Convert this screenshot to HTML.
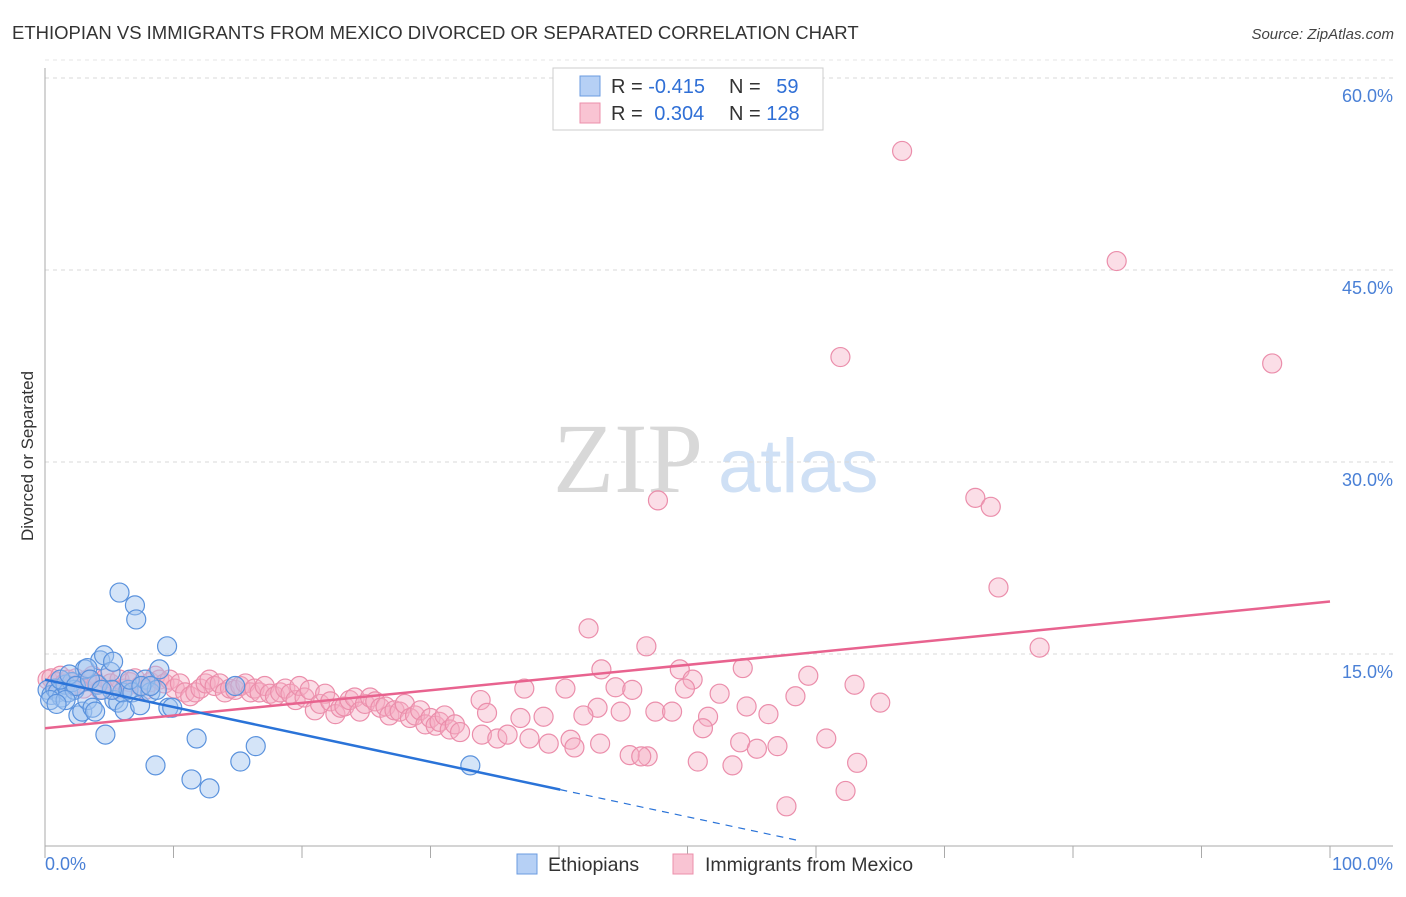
<!DOCTYPE html>
<html><head><meta charset="utf-8"><style>
body{margin:0;background:#fff;font-family:"Liberation Sans",sans-serif}
svg text{font-family:"Liberation Sans",sans-serif}
</style></head><body>
<svg id="chart" width="1406" height="892" viewBox="0 0 1406 892" xmlns="http://www.w3.org/2000/svg">
<text x="12" y="39" font-size="18.5" fill="#333">ETHIOPIAN VS IMMIGRANTS FROM MEXICO DIVORCED OR SEPARATED CORRELATION CHART</text>
<text x="1394" y="39" font-size="15" fill="#444" font-style="italic" text-anchor="end">Source: ZipAtlas.com</text>
<g>
<text x="553" y="492" font-size="100" fill="#d8d8d8" style="font-family:'Liberation Serif',serif">ZIP</text>
<text x="718" y="492" font-size="76" fill="#cfe0f5">atlas</text>
</g>
<g id="grid"></g>
<g id="axes"></g>
<g id="pink"></g>
<g id="blue"></g>
<g id="trends"></g>
<text transform="translate(33,456) rotate(-90)" font-size="17" fill="#333" text-anchor="middle">Divorced or Separated</text>
<g>
<rect x="553" y="68" width="270" height="62" fill="#fff" stroke="#ccc"/>
<rect x="580" y="76" width="20" height="20" fill="#b6d0f5" stroke="#6b9be0"/>
<rect x="580" y="103" width="20" height="20" fill="#f9c4d3" stroke="#ec8fab"/>
<text x="611" y="93" font-size="20" fill="#333">R = <tspan fill="#2f6fd6">-0.415</tspan></text>
<text x="729" y="93" font-size="20" fill="#333">N = <tspan dx="10" fill="#2f6fd6">59</tspan></text>
<text x="611" y="120" font-size="20" fill="#333">R = <tspan dx="6" fill="#2f6fd6">0.304</tspan></text>
<text x="729" y="120" font-size="20" fill="#333">N = <tspan fill="#2f6fd6">128</tspan></text>
</g>
<g>
<rect x="517" y="854" width="20" height="20" fill="#b6d0f5" stroke="#6b9be0"/>
<text x="548" y="871" font-size="19.5" fill="#333">Ethiopians</text>
<rect x="673" y="854" width="20" height="20" fill="#f9c4d3" stroke="#ec8fab"/>
<text x="705" y="871" font-size="19.5" fill="#333">Immigrants from Mexico</text>
</g>
</svg>
<script>
const yTicks=[15,30,45,60];
const yTickLabels=["15.0%","30.0%","45.0%","60.0%"];
const xTickCount=10;
const blueX=[0.2,0.5,0.8,1.0,1.3,1.6,1.8,2.1,2.3,2.6,2.9,3.1,3.3,3.7,3.9,4.1,4.3,4.6,4.7,5.1,5.3,5.4,5.7,6.0,6.2,6.5,6.8,7.0,7.1,7.4,5.8,7.8,8.2,8.6,8.7,8.9,9.5,9.6,9.9,11.4,11.8,12.8,14.8,15.2,16.4,33.1,1.2,1.9,3.3,5.2,2.4,0.4,1.6,3.5,6.6,0.9,4.4,7.5,8.2];
const blueY=[12.2,11.8,12.3,12.0,11.6,12.6,12.0,12.8,12.2,10.2,10.5,13.8,11.4,10.8,10.5,12.6,14.5,14.9,8.7,13.6,14.4,11.4,11.2,12.0,10.6,12.2,12.0,18.8,17.7,11.0,19.8,13.0,12.0,6.3,12.2,13.8,15.6,10.8,10.8,5.2,8.4,4.5,12.5,6.6,7.8,6.3,13.0,13.4,13.9,12.2,12.5,11.4,11.4,13.0,13.0,11.1,12.2,12.5,12.5];
const pinkX=[0.2,0.5,0.9,1.2,1.5,1.8,2.1,2.4,2.7,3.0,3.3,3.7,4.0,4.3,4.7,5.1,5.4,5.8,6.2,6.6,7.0,7.4,7.8,8.2,8.6,8.9,9.3,9.7,10.1,10.5,10.9,11.3,11.7,12.1,12.5,12.8,13.2,13.6,14.0,14.4,14.8,15.2,15.6,16.0,16.3,16.7,17.1,17.5,17.9,18.3,18.7,19.1,19.5,19.8,20.2,20.6,21.0,21.4,21.8,22.2,22.6,23.0,23.3,23.7,24.1,24.5,24.9,25.3,25.7,26.1,26.5,26.8,27.2,27.6,28.0,28.4,28.8,29.2,29.6,30.0,30.4,30.7,31.1,31.5,31.9,32.3,
66.7,83.4,61.9,95.5,47.7,72.4,73.6,74.2,42.3,46.8,77.4,43.3,49.4,54.3,59.4,63.0,65.0,40.5,44.4,45.7,50.4,49.8,52.5,58.4,37.3,33.9,43.0,44.8,47.5,48.8,54.6,56.3,51.6,51.2,41.9,38.8,37.0,34.4,43.2,46.9,45.5,46.4,50.8,53.5,54.1,55.4,57.0,60.8,63.2,62.3,57.7,34.0,35.2,36.0,37.7,39.2,40.9,41.2];
const pinkY=[13.0,13.1,12.8,13.3,12.7,13.0,12.5,13.1,12.7,12.3,13.0,13.3,12.7,12.2,13.1,12.7,12.2,13.0,12.3,12.8,13.1,12.5,12.2,12.8,13.3,13.0,12.7,13.0,12.3,12.7,12.0,11.7,12.0,12.3,12.7,13.0,12.5,12.7,12.0,12.3,12.2,12.5,12.7,12.0,12.3,12.0,12.5,11.9,11.7,12.0,12.3,11.9,11.4,12.5,11.6,12.2,10.6,11.1,11.9,11.3,10.3,10.8,10.9,11.4,11.6,10.5,11.1,11.6,11.3,10.8,10.9,10.2,10.6,10.5,11.1,10.0,10.2,10.6,9.5,10.0,9.4,9.7,10.2,9.1,9.5,8.9,
54.3,45.7,38.2,37.7,27.0,27.2,26.5,20.2,17.0,15.6,15.5,13.8,13.8,13.9,13.3,12.6,11.2,12.3,12.4,12.2,13.0,12.3,11.9,11.7,12.3,11.4,10.8,10.5,10.5,10.5,10.9,10.3,10.1,9.2,10.2,10.1,10.0,10.4,8.0,7.0,7.1,7.0,6.6,6.3,8.1,7.6,7.8,8.4,6.5,4.3,3.1,8.7,8.4,8.7,8.4,8.0,8.3,7.7];
const pinkTrend=[9.2,19.1];
const blueIntercept=13.0, blueSlope=-0.2144, blueSolidEnd=40.1, blueDashEnd=58.8;
const NS="http://www.w3.org/2000/svg";
const X0=45,X1=1330,Y0=846,YSCALE=12.8;
const sx=v=>X0+v*(X1-X0)/100, sy=v=>Y0-v*YSCALE;
function mk(tag,attrs,parent){const e=document.createElementNS(NS,tag);for(const k in attrs)e.setAttribute(k,attrs[k]);parent.appendChild(e);return e;}
const grid=document.getElementById('grid'),axes=document.getElementById('axes');
yTicks.forEach((t,i)=>{
 const l=mk('line',{x1:X0,x2:1393,y1:sy(t),y2:sy(t),stroke:'#d8d8d8','stroke-dasharray':'4,4'},grid);
 
 
 const tx=mk('text',{x:1393,y:sy(t)+24,'font-size':18,fill:'#4a80d6','text-anchor':'end'},axes);
 tx.textContent=yTickLabels[i];
 
 
});
const tg=mk('line',{x1:X0,x2:1393,y1:sy(60)-18,y2:sy(60)-18,stroke:'#e4e4e4','stroke-dasharray':'4,4'},grid);


const ya=mk('line',{x1:X0,x2:X0,y1:68,y2:Y0,stroke:'#aaa'},axes);


const xa=mk('line',{x1:X0,x2:1393,y1:Y0,y2:Y0,stroke:'#aaa'},axes);


for(let i=0;i<=xTickCount;i++){const v=i*100/xTickCount;
 const t=mk('line',{x1:sx(v),x2:sx(v),y1:Y0,y2:Y0+12,stroke:'#aaa'},axes);
 
 }
const xl0=mk('text',{x:X0,y:870,'font-size':18,fill:'#4a80d6'},axes);xl0.textContent='0.0%';


const xl1=mk('text',{x:1393,y:870,'font-size':18,fill:'#4a80d6','text-anchor':'end'},axes);xl1.textContent='100.0%';


const pg=document.getElementById('pink');
pinkX.forEach((x,i)=>{const c=mk('circle',{cx:sx(x),cy:sy(pinkY[i]),r:9.5,fill:'rgba(246,172,196,0.4)',stroke:'#eb8eab','stroke-width':1.2},pg);
 
 });
const bg=document.getElementById('blue');
blueX.forEach((x,i)=>{const c=mk('circle',{cx:sx(x),cy:sy(blueY[i]),r:9.5,fill:'rgba(160,196,240,0.45)',stroke:'#5a92dd','stroke-width':1.2},bg);
 
 });
const tr=document.getElementById('trends');
const pl=mk('line',{x1:sx(0),y1:sy(pinkTrend[0]),x2:sx(100),y2:sy(pinkTrend[1]),stroke:'#e8638f','stroke-width':2.5},tr);


const bl=mk('line',{x1:sx(0),y1:sy(blueIntercept),x2:sx(blueSolidEnd),y2:sy(blueIntercept+blueSlope*blueSolidEnd),stroke:'#2a73d8','stroke-width':2.5},tr);


const bd=mk('line',{x1:sx(blueSolidEnd),y1:sy(blueIntercept+blueSlope*blueSolidEnd),x2:sx(blueDashEnd),y2:sy(blueIntercept+blueSlope*blueDashEnd),stroke:'#2a73d8','stroke-width':1.2,'stroke-dasharray':'7,6'},tr);


</script>
</body></html>
